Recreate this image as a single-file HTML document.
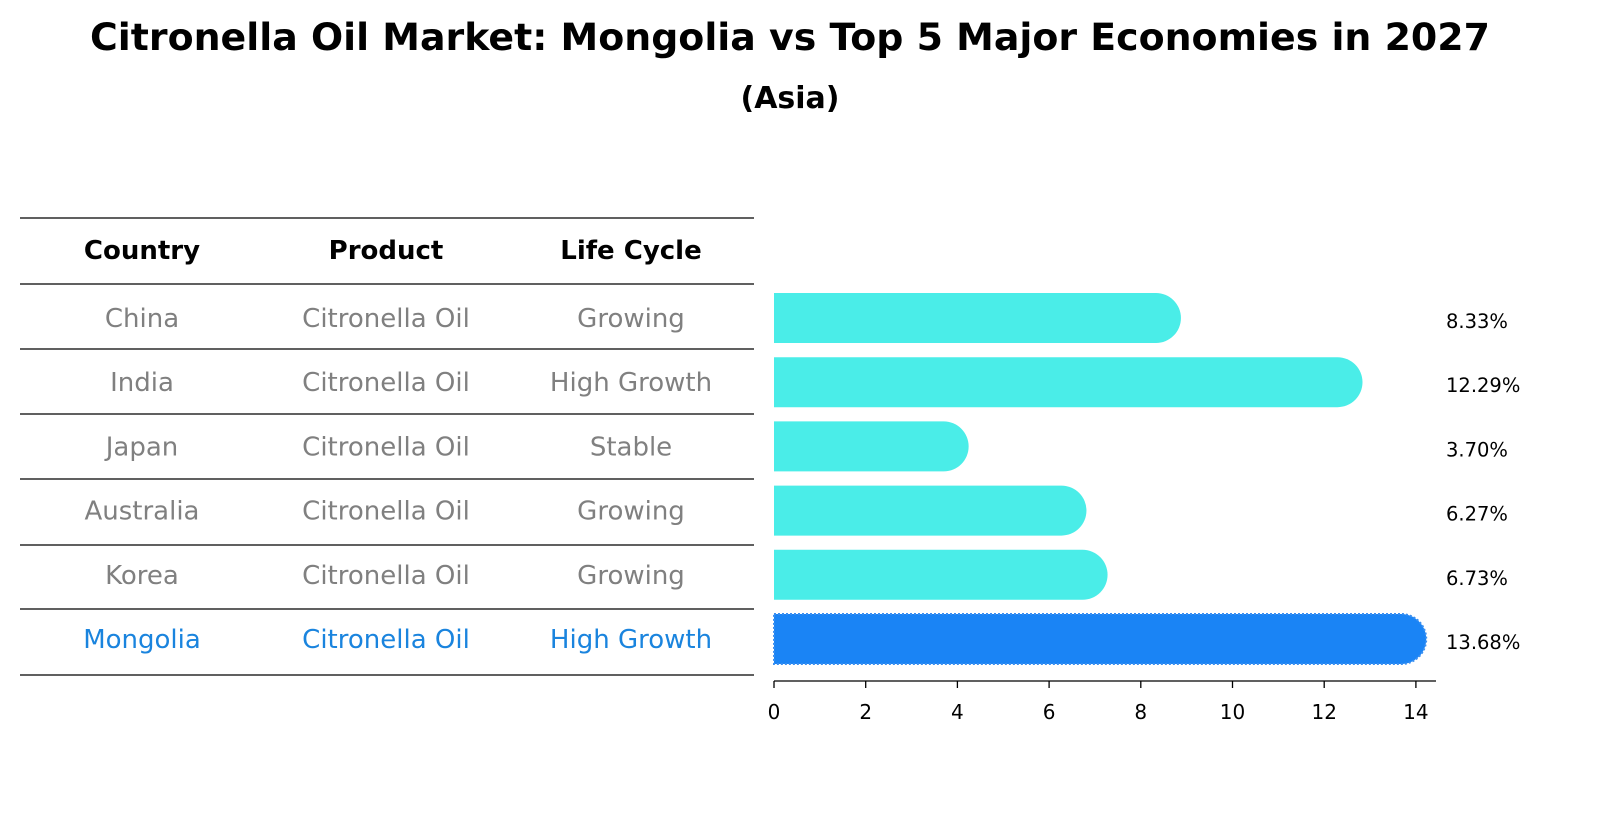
<!DOCTYPE html>
<html><head><meta charset="utf-8">
<style>
body{margin:0;background:#fff;font-family:"Liberation Sans","DejaVu Sans",sans-serif;}
svg text{font-family:"DejaVu Sans","Liberation Sans",sans-serif;}
</style></head>
<body>
<svg id="chart" width="1604" height="823" viewBox="0 0 1604 823" xmlns="http://www.w3.org/2000/svg">
<text x="790" y="50" text-anchor="middle" font-size="37" font-weight="bold" textLength="1400" lengthAdjust="spacingAndGlyphs">Citronella Oil Market: Mongolia vs Top 5 Major Economies in 2027</text>
<text x="790" y="108" text-anchor="middle" font-size="30" font-weight="bold">(Asia)</text>
<g id="table"></g>
<g id="bars"></g>
<g id="axis"></g>
</svg>
<script>
const countries=["China","India","Japan","Australia","Korea","Mongolia"];
const products=["Citronella Oil","Citronella Oil","Citronella Oil","Citronella Oil","Citronella Oil","Citronella Oil"];
const lifeCycles=["Growing","High Growth","Stable","Growing","Growing","High Growth"];
const values=[8.33,12.29,3.70,6.27,6.73,13.68];
const ticks=[0,2,4,6,8,10,12,14];
const NS="http://www.w3.org/2000/svg";
function mk(t,a,p){const e=document.createElementNS(NS,t);for(const k in a)e.setAttribute(k,a[k]);p.appendChild(e);return e;}
const x0=774,pxu=45.85;
const xs=v=>x0+v*pxu;
const rowY=i=>318+i*64.2;
const tbl=document.getElementById('table');
const lines=[218,284,349,414,479,545,609,675];
lines.forEach((y,i)=>{const l=mk('line',{x1:20,x2:754,y1:y,y2:y,stroke:'#000','stroke-width':1.2},tbl);

});
const colX=[142,386,631];
["Country","Product","Life Cycle"].forEach((h,j)=>{const t=mk('text',{x:colX[j],y:259,'text-anchor':'middle','font-size':26,'font-weight':'bold'},tbl);t.textContent=h;

});
countries.forEach((c,i)=>{const col=i===countries.length-1?'#1a84de':'#808080';
[c,products[i],lifeCycles[i]].forEach((v,j)=>{const t=mk('text',{x:colX[j],y:rowY(i)+9,'text-anchor':'middle','font-size':26,fill:col},tbl);t.textContent=v;

});});
const bars=document.getElementById('bars');
const h=50,r=25;
values.forEach((v,i)=>{const last=i===values.length-1;const yc=rowY(i);const xe=xs(v);
const p=mk('path',{d:`M${x0},${yc-h/2} L${xe},${yc-h/2} A${r},${r} 0 0 1 ${xe},${yc+h/2} L${x0},${yc+h/2} Z`,fill:last?'#1a84f5':'#4aede8',stroke:last?'#3b8ff0':'none','stroke-dasharray':last?'2,2':'none','stroke-width':last?2:0},bars);


const t=mk('text',{x:1446,y:yc+10,'font-size':19.5},bars);t.textContent=v.toFixed(2)+'%';

});
const ax=document.getElementById('axis');
const al=mk('line',{x1:x0,x2:1436,y1:681,y2:681,stroke:'#000','stroke-width':1.3},ax);


ticks.forEach(v=>{const tl=mk('line',{x1:xs(v),x2:xs(v),y1:681,y2:688,stroke:'#000','stroke-width':1.3},ax);


const t=mk('text',{x:xs(v),y:719,'text-anchor':'middle','font-size':20},ax);t.textContent=v;

});
</script>
</body></html>
